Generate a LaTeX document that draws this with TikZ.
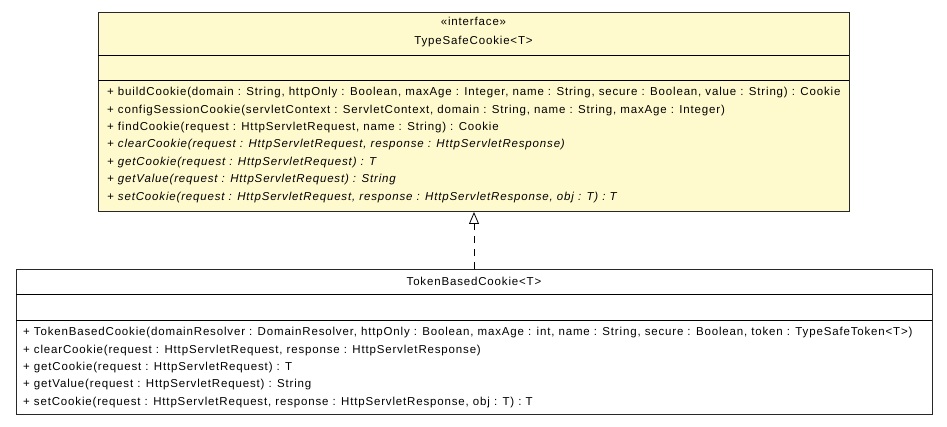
\documentclass[tikz,border=0pt]{standalone}
\usepackage{fontspec}
\setmainfont{Liberation Sans}[LetterSpace=7.3]
\usetikzlibrary{arrows.meta}
\definecolor{ifacefill}{RGB}{255,250,205}
\definecolor{boxline}{RGB}{40,40,40}
\begin{document}
\begin{tikzpicture}[x=1pt,y=-1pt,
  umlbox/.style={draw=boxline,line width=1pt,inner sep=0pt,anchor=north west},
  txt/.style={inner sep=0pt,font=\fontsize{11.5}{13}\selectfont,text height=8pt,text depth=2.5pt},
  member/.style={txt,anchor=west},
  abstract/.style={member,font=\fontsize{11.5}{13}\selectfont\itshape},
  title/.style={txt,anchor=center},
  realize/.style={draw=black,line width=0.8pt,dash pattern=on 7pt off 6pt,
    -{Triangle[open,length=12pt,width=10pt]}}]
\useasboundingbox (0,0) rectangle (947,427);

% interface TypeSafeCookie<T>
\node[umlbox,fill=ifacefill,minimum width=751pt,minimum height=199pt] (iface) at (98,12) {};
\draw[line width=1pt] (98,56) -- (849,56);
\draw[line width=1pt] (98,81) -- (849,81);
\node[title] (istereo) at (473.5,23) {«interface»};
\node[title] (iname) at (473.5,41.5) {TypeSafeCookie<T>};
\node[member] (im1) at (107,93) {+ buildCookie(domain : String, httpOnly : Boolean, maxAge : Integer, name : String, secure : Boolean, value : String) : Cookie};
\node[member] (im2) at (107,110.4) {+ configSessionCookie(servletContext : ServletContext, domain : String, name : String, maxAge : Integer)};
\node[member] (im3) at (107,127.8) {+ findCookie(request : HttpServletRequest, name : String) : Cookie};
\node[abstract] (im4) at (107,145.2) {+ clearCookie(request : HttpServletRequest, response : HttpServletResponse)};
\node[abstract] (im5) at (107,162.6) {+ getCookie(request : HttpServletRequest) : T};
\node[abstract] (im6) at (107,180) {+ getValue(request : HttpServletRequest) : String};
\node[abstract] (im7) at (107,197.4) {+ setCookie(request : HttpServletRequest, response : HttpServletResponse, obj : T) : T};

% class TokenBasedCookie<T>
\node[umlbox,fill=white,minimum width=916pt,minimum height=145pt] (impl) at (16,269) {};
\draw[line width=1pt] (16,295) -- (932,295);
\draw[line width=1pt] (16,320.5) -- (932,320.5);
\node[title] (cname) at (474,282.5) {TokenBasedCookie<T>};
\node[member] (cm1) at (23,333) {+ TokenBasedCookie(domainResolver : DomainResolver, httpOnly : Boolean, maxAge : int, name : String, secure : Boolean, token : TypeSafeToken<T>)};
\node[member] (cm2) at (23,350.4) {+ clearCookie(request : HttpServletRequest, response : HttpServletResponse)};
\node[member] (cm3) at (23,367.8) {+ getCookie(request : HttpServletRequest) : T};
\node[member] (cm4) at (23,385.2) {+ getValue(request : HttpServletRequest) : String};
\node[member] (cm5) at (23,402.6) {+ setCookie(request : HttpServletRequest, response : HttpServletResponse, obj : T) : T};

% realization
\draw[realize] (impl.north -| iface.south) -- (iface.south);
\end{tikzpicture}
\end{document}
